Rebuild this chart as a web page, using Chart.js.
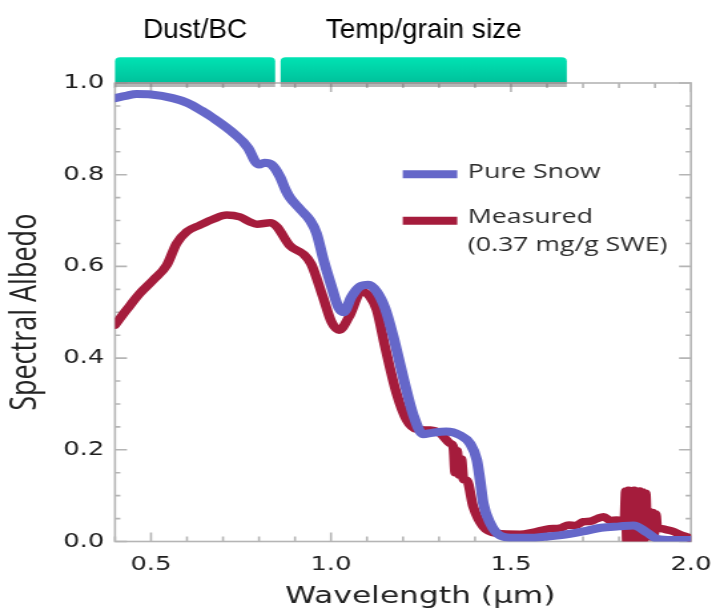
<!DOCTYPE html>
<html>
<head>
<meta charset="utf-8">
<script src="https://cdn.jsdelivr.net/npm/chart.js@4.4.1/dist/chart.umd.min.js"></script>
<style>
  html, body { margin: 0; padding: 0; background: #fff; overflow: hidden; }
  /* the figure is drawn narrow and widened, like the pasted original */
  #albedo { transform: scaleX(1.3309); transform-origin: 0 0; }
</style>
</head>
<body>
<canvas id="albedo" width="541" height="613"></canvas>
<script>
const STRETCH = 1.3309;

// wavelength (um) and albedo for the clean snow model
const snowWave = [0.40, 0.43, 0.46, 0.50, 0.56, 0.60, 0.64, 0.67, 0.73, 0.77, 0.79, 0.80, 0.815, 0.835,
  0.858, 0.875, 0.886, 0.914, 0.942, 0.96, 0.979, 1.00, 1.02, 1.035, 1.057, 1.08, 1.104, 1.127, 1.15,
  1.173, 1.20, 1.229, 1.256, 1.28, 1.32, 1.358, 1.386, 1.405, 1.414, 1.423, 1.442, 1.47, 1.51, 1.55,
  1.60, 1.64, 1.70, 1.75, 1.80, 1.84, 1.877, 1.905, 1.95, 2.00];
const snowAlbedo = [0.967, 0.972, 0.976, 0.975, 0.967, 0.957, 0.940, 0.925, 0.890, 0.858, 0.828, 0.822, 0.826, 0.822,
  0.796, 0.765, 0.750, 0.725, 0.700, 0.672, 0.615, 0.560, 0.512, 0.500, 0.534, 0.556, 0.560, 0.545, 0.509,
  0.447, 0.360, 0.275, 0.234, 0.237, 0.240, 0.232, 0.214, 0.178, 0.134, 0.083, 0.040, 0.013, 0.008, 0.008,
  0.011, 0.014, 0.022, 0.030, 0.033, 0.035, 0.020, 0.006, 0.003, 0.003];

// measured spectrum, dusty snow
const measuredWave = [0.40, 0.432, 0.469, 0.506, 0.544, 0.571, 0.60, 0.636, 0.673, 0.71, 0.747, 0.775, 0.794,
  0.831, 0.849, 0.886, 0.923, 0.945, 0.979, 1.002, 1.023, 1.05, 1.085, 1.108, 1.127, 1.15, 1.182, 1.21,
  1.238, 1.275, 1.303, 1.331, 1.340, 1.345, 1.350, 1.356, 1.362, 1.368, 1.377, 1.395, 1.423, 1.46, 1.525,
  1.56, 1.60, 1.64, 1.66, 1.68, 1.70, 1.72, 1.74, 1.757, 1.775, 1.794, 1.815, 1.819, 1.822, 1.826, 1.830,
  1.834, 1.838, 1.842, 1.846, 1.850, 1.854, 1.858, 1.862, 1.866, 1.870, 1.874, 1.878, 1.884, 1.888, 1.893,
  1.897, 1.902, 1.906, 1.92, 1.93, 1.95, 1.97, 1.99, 2.00];
const measuredAlbedo = [0.472, 0.505, 0.541, 0.570, 0.603, 0.650, 0.676, 0.690, 0.703, 0.712, 0.708, 0.697, 0.692,
  0.695, 0.687, 0.645, 0.627, 0.605, 0.530, 0.478, 0.461, 0.490, 0.545, 0.534, 0.505, 0.425, 0.323, 0.265,
  0.245, 0.243, 0.236, 0.214, 0.205, 0.150, 0.198, 0.145, 0.180, 0.135, 0.134, 0.076, 0.032, 0.018, 0.016,
  0.020, 0.027, 0.030, 0.036, 0.035, 0.043, 0.044, 0.050, 0.054, 0.046, 0.047, 0.044, 0.110, 0.000, 0.112, 0.000,
  0.110, 0.005, 0.112, 0.020, 0.108, 0.000, 0.110, 0.010, 0.108, 0.005, 0.105, 0.030, 0.065, 0.010, 0.063,
  0.015, 0.060, 0.030, 0.028, 0.026, 0.022, 0.015, 0.010, 0.006];

const seriesNames = ['Pure Snow', 'Measured'];
const measuredNote = '(0.37 mg/g SWE)';

// wavelength ranges marked above the plot
const bandLabels = ['Dust/BC', 'Temp/grain size'];
const bandStart = [0.40, 0.86];
const bandEnd = [0.845, 1.655];

const BLUE = '#6567c9';
const RED = '#a51c3c';

const isMajorX = v => Math.abs(v * 2 - Math.round(v * 2)) < 1e-6;
const isMajorY = v => Math.abs(v * 5 - Math.round(v * 5)) < 1e-6;

const toPoints = (xs, ys) => xs.map((w, i) => ({ x: w, y: ys[i] }));

// box with inward ticks on all four sides
const frame = {
  id: 'frame',
  beforeDatasetsDraw(chart) {
    const { ctx, chartArea: a, scales: { x, y } } = chart;
    ctx.save();
    ctx.strokeStyle = '#b5b5b5';
    ctx.lineWidth = 1.6;
    ctx.strokeRect(a.left, a.top, a.right - a.left, a.bottom - a.top);
    ctx.beginPath();
    x.ticks.forEach(t => {
      const px = x.getPixelForValue(t.value);
      const len = isMajorX(t.value) ? 9 : 5;
      ctx.moveTo(px, a.bottom); ctx.lineTo(px, a.bottom - len);
      ctx.moveTo(px, a.top); ctx.lineTo(px, a.top + len);
    });
    y.ticks.forEach(t => {
      const py = y.getPixelForValue(t.value);
      const len = isMajorY(t.value) ? 9 : 4;
      ctx.moveTo(a.left, py); ctx.lineTo(a.left + len, py);
      ctx.moveTo(a.right, py); ctx.lineTo(a.right - len, py);
    });
    ctx.stroke();
    ctx.restore();
  }
};

// legend, x title and the range bars
const extras = {
  id: 'extras',
  afterDraw(chart) {
    const { ctx, chartArea: a, scales: { x } } = chart;
    ctx.save();

    // legend
    const rows = [
      { color: BLUE, lineY: 174.3, texts: [[seriesNames[0], 177.7]] },
      { color: RED, lineY: 220.7, texts: [[seriesNames[1], 222.7], [measuredNote, 250.5]] }
    ];
    ctx.lineWidth = 8;
    ctx.font = '20px "Open Sans"';
    ctx.textBaseline = 'alphabetic';
    ctx.textAlign = 'left';
    rows.forEach(r => {
      ctx.strokeStyle = r.color;
      ctx.beginPath();
      ctx.moveTo(302.6, r.lineY); ctx.lineTo(343.6, r.lineY);
      ctx.stroke();
      ctx.fillStyle = '#2a2a2a';
      r.texts.forEach(([s, by]) => ctx.fillText(s, 351.6, by));
    });

    // x axis title
    ctx.fillStyle = '#222';
    ctx.font = '23.5px "DejaVu Sans"';
    ctx.textAlign = 'center';
    ctx.fillText('Wavelength (\u00b5m)', 315.9, 603.3);

    // range bars with their labels
    bandLabels.forEach((label, i) => {
      const l = x.getPixelForValue(bandStart[i]);
      const r = x.getPixelForValue(bandEnd[i]);
      const top = a.top - 25.7, bottom = a.top - 1;
      ctx.fillStyle = 'rgba(110,110,110,0.5)';
      ctx.fillRect(l, bottom, r - l, 5);
      const g = ctx.createLinearGradient(0, top, 0, bottom);
      g.addColorStop(0, '#00e3b3');
      g.addColorStop(1, '#00c29c');
      ctx.fillStyle = g;
      ctx.beginPath();
      ctx.roundRect(l, top, r - l, bottom - top, [4, 4, 0, 0]);
      ctx.fill();

      ctx.save();
      ctx.translate((l + r) / 2, 37.5);
      ctx.scale(1 / STRETCH, 1);
      ctx.font = '28px "Liberation Sans"';
      ctx.textAlign = 'center';
      ctx.fillStyle = '#000';
      ctx.fillText(label, 0, 0);
      ctx.restore();
    });
    ctx.restore();
  }
};

new Chart('albedo', {
  type: 'line',
  data: {
    datasets: [{
      label: seriesNames[0],
      data: toPoints(snowWave, snowAlbedo),
      borderColor: BLUE,
      borderWidth: 8
    }, {
      label: seriesNames[1],
      data: toPoints(measuredWave, measuredAlbedo),
      borderColor: RED,
      borderWidth: 7.5
    }]
  },
  options: {
    responsive: false,
    animation: false,
    devicePixelRatio: 1,
    elements: {
      point: { radius: 0 },
      line: { cubicInterpolationMode: 'monotone', borderJoinStyle: 'round', borderCapStyle: 'round', fill: false }
    },
    layout: { padding: { top: 83, right: 21.8, bottom: 0, left: 0 } },
    plugins: { legend: { display: false }, tooltip: { enabled: false } },
    scales: {
      x: {
        type: 'linear',
        min: 0.4,
        max: 2.0,
        grid: { display: false, drawTicks: false },
        border: { display: false },
        ticks: {
          stepSize: 0.1,
          autoSkip: false,
          maxRotation: 0,
          padding: 12,
          color: '#1e1e1e',
          font: { family: 'DejaVu Sans', size: 19.5 },
          callback: v => isMajorX(v) ? v.toFixed(1) : ''
        },
        afterFit: s => { s.height = 71.5; s.paddingLeft = 0; s.paddingRight = 0; }
      },
      y: {
        min: 0,
        max: 1,
        grid: { display: false, drawTicks: false },
        border: { display: false },
        ticks: {
          stepSize: 0.05,
          autoSkip: false,
          padding: 8,
          color: '#1e1e1e',
          font: { family: 'DejaVu Sans', size: 19.5 },
          callback: v => isMajorY(v) ? v.toFixed(1) : ''
        },
        title: {
          display: true,
          text: 'Spectral Albedo',
          color: '#222',
          font: { family: 'Open Sans', size: 27 },
          padding: { top: 3, bottom: 0 }
        },
        afterFit: s => { s.width = 86.4; s.paddingTop = 0; s.paddingBottom = 0; }
      }
    }
  },
  plugins: [frame, extras]
});
</script>
</body>
</html>
